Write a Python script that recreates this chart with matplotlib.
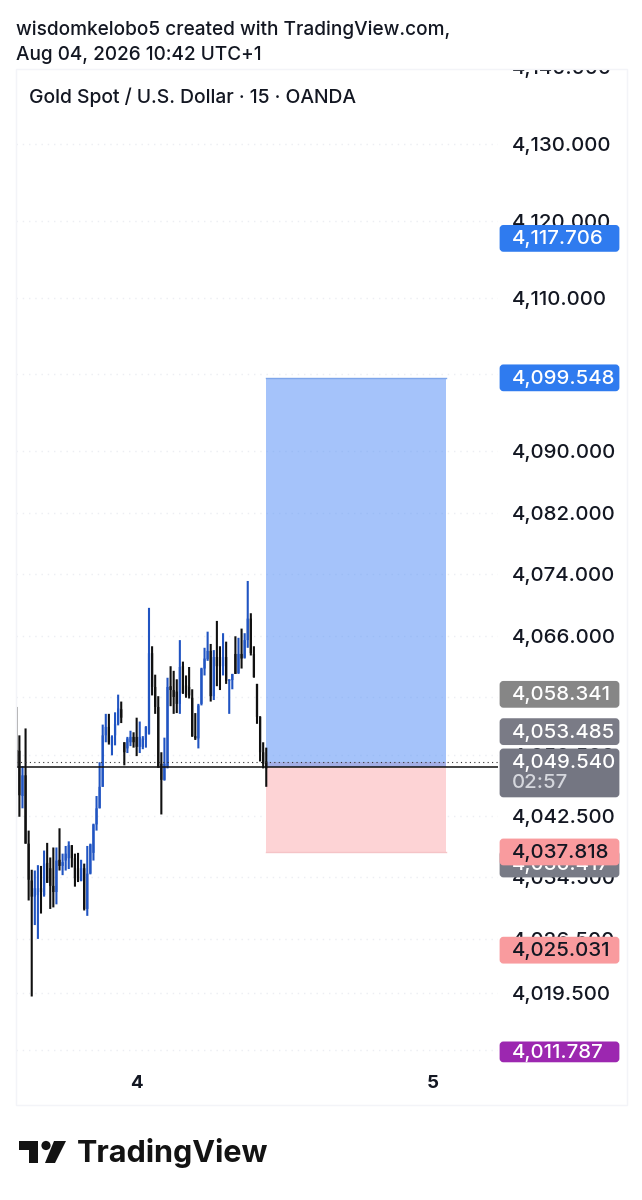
import numpy as np
from matplotlib import pyplot as plt
from matplotlib.patches import FancyBboxPatch, Rectangle, Circle, Polygon
from matplotlib.transforms import Bbox, IdentityTransform

# 15 min candles
opens = [4051.1, 4051.0, 4045.1, 4047.8, 4038.9, 4034.1, 4032.0, 4032.2, 4033.1, 4032.2,
         4036.4, 4035.7, 4033.4, 4032.6, 4036.8, 4036.0, 4036.7, 4037.0, 4038.7, 4037.0,
         4035.7, 4034.1, 4035.7, 4030.4, 4035.0, 4037.7, 4041.4, 4043.5, 4046.3, 4053.0,
         4054.1, 4051.7, 4053.0, 4054.5, 4056.4, 4052.1, 4051.3, 4052.1, 4052.8, 4052.8,
         4051.5, 4051.5, 4052.4, 4053.2, 4063.7, 4059.3, 4056.7, 4049.3, 4047.2, 4048.9,
         4059.4, 4058.9, 4058.7, 4057.1, 4062.0, 4059.5, 4059.3, 4057.9, 4052.9, 4052.6,
         4057.1, 4061.7, 4062.9, 4064.0, 4058.1, 4063.2, 4063.2, 4062.0, 4063.2, 4060.1,
         4060.2, 4063.6, 4061.1, 4063.6, 4063.1, 4065.4, 4068.2, 4063.6, 4059.7, 4055.4,
         4050.8, 4049.6]
highs = [4056.7, 4053.0, 4049.0, 4053.9, 4040.6, 4035.5, 4035.4, 4036.1, 4036.0, 4038.0,
         4039.0, 4037.1, 4038.4, 4038.4, 4040.9, 4037.6, 4038.6, 4039.2, 4038.7, 4037.6,
         4037.7, 4036.8, 4036.3, 4038.6, 4038.9, 4041.5, 4045.1, 4049.5, 4054.4, 4055.8,
         4055.8, 4053.0, 4056.0, 4058.3, 4057.4, 4052.1, 4052.8, 4053.6, 4053.4, 4055.3,
         4054.8, 4052.9, 4054.2, 4069.6, 4064.6, 4060.9, 4058.1, 4050.8, 4052.7, 4060.5,
         4062.0, 4061.4, 4060.3, 4065.4, 4062.6, 4060.8, 4061.9, 4059.0, 4055.9, 4057.1,
         4061.8, 4064.4, 4066.5, 4064.9, 4064.1, 4067.9, 4064.6, 4066.3, 4065.2, 4060.3,
         4061.0, 4065.9, 4065.7, 4066.9, 4066.3, 4073.1, 4068.9, 4064.6, 4059.7, 4055.5,
         4052.1, 4051.4]
lows = [4048.8, 4042.4, 4043.5, 4038.9, 4031.5, 4019.0, 4028.3, 4026.5, 4029.8, 4032.0,
        4033.8, 4030.4, 4030.6, 4031.0, 4035.4, 4034.8, 4035.4, 4035.6, 4035.8, 4033.3,
        4033.9, 4034.0, 4030.2, 4029.5, 4034.9, 4036.7, 4040.6, 4043.5, 4046.3, 4052.1,
        4051.8, 4050.4, 4051.7, 4054.3, 4054.6, 4049.1, 4050.7, 4051.6, 4051.4, 4050.3,
        4050.7, 4051.2, 4051.4, 4053.1, 4058.2, 4055.8, 4048.8, 4042.7, 4047.1, 4048.7,
        4056.8, 4055.8, 4055.9, 4055.8, 4058.4, 4057.9, 4057.8, 4052.8, 4052.4, 4051.3,
        4056.9, 4060.8, 4062.7, 4057.4, 4057.6, 4059.4, 4058.9, 4060.8, 4059.7, 4055.8,
        4059.0, 4061.0, 4061.0, 4061.7, 4063.0, 4064.4, 4063.4, 4060.5, 4054.5, 4049.6,
        4048.7, 4046.3]
closes = [4048.8, 4045.2, 4047.8, 4038.9, 4034.2, 4032.0, 4033.1, 4033.1, 4032.6, 4036.3,
          4033.8, 4033.4, 4032.6, 4036.7, 4036.0, 4036.5, 4037.6, 4038.7, 4037.0, 4034.4,
          4034.1, 4035.7, 4030.4, 4035.0, 4038.8, 4041.4, 4043.5, 4046.3, 4053.0, 4054.1,
          4052.1, 4052.8, 4054.5, 4056.5, 4055.3, 4050.8, 4052.6, 4052.8, 4052.1, 4051.5,
          4052.8, 4052.6, 4054.1, 4063.7, 4059.3, 4056.7, 4048.8, 4047.2, 4049.3, 4059.3,
          4058.9, 4058.0, 4057.1, 4061.9, 4058.5, 4058.2, 4058.2, 4052.9, 4052.6, 4056.9,
          4061.7, 4063.0, 4064.0, 4058.1, 4063.2, 4062.0, 4062.0, 4063.2, 4060.1, 4060.3,
          4061.0, 4061.0, 4063.6, 4063.0, 4065.4, 4068.2, 4063.7, 4060.6, 4055.4, 4050.8,
          4049.3, 4048.7]

# price axis
grid_prices = [4140, 4130, 4120, 4110, 4100, 4090, 4082, 4074, 4066, 4058, 4050.5, 4042.5,
               4034.5, 4026.5, 4019.5, 4012]
grid_labels = ['4,140.000', '4,130.000', '4,120.000', '4,110.000', '', '4,090.000', '4,082.000',
               '4,074.000', '4,066.000', '', '4,050.500', '4,042.500', '4,034.500', '4,026.500',
               '4,019.500', '4,012.000']
day_ticks = [38.8, 135]
day_labels = ['4', '5']

# position tool
target_price = 4099.548
entry_price = 4048.9
stop_price = 4037.818
last_price = 4049.54
box_start = 80.9
box_end = 139.2

W, H = 642, 1200
INK = '#131722'
FONT = 'Inter'
LABEL_SIZE = 14.7

fig = plt.figure(figsize=(W / 100, H / 100), dpi=100, facecolor='white')
ax = fig.add_axes([16 / W, 1 - 1067 / H, 482 / W, (1067 - 67) / H])
for s in ax.spines.values():
    s.set_visible(False)

ax.yaxis.tick_right()
ax.set_yticks(grid_prices)
ax.set_yticklabels(grid_labels, fontsize=LABEL_SIZE, color=INK, family=FONT, fontweight='medium')
ax.set_xticks(day_ticks)
ax.set_xticklabels(day_labels, fontsize=13.5, fontweight='bold', color=INK, family=FONT)
ax.tick_params(axis='y', length=0, pad=10)
ax.tick_params(axis='x', length=0, pad=6)
ax.grid(axis='y', color='#eceef3', lw=1, linestyle=(0, (1, 3.5)))
ax.set_axisbelow(True)
ax.set_xlim(-0.1, 156.1)
ax.set_ylim(4009.82, 4140.02)

# the top label is cut by the pane edge, and that level has no line in the pane
ax.yaxis.get_gridlines()[0].set_visible(False)
for lbl in ax.get_yticklabels():
    lbl.set_clip_box(Bbox([[0, H - 1105], [W, H - 69]]))
    lbl.set_clip_on(True)

# pane border
fig.add_artist(Rectangle((16, H - 1105), 611, 1036, transform=IdentityTransform(), fill=False,
                         ec='#f3f4f8', lw=1, zorder=0.5))

# risk/reward boxes
ax.fill_between([box_start, box_end], last_price, stop_price, color='#fdd3d5', lw=0, zorder=1)
ax.fill_between([box_start, box_end], entry_price, target_price, color='#5b93f7', alpha=0.55, lw=0, zorder=1.1)
ax.plot([box_start, box_end], [target_price, target_price], color='#7fa6ea', lw=1, zorder=1.2)
ax.plot([box_start, box_end], [stop_price, stop_price], color='#f5c4c7', lw=1, zorder=1.2)

# candles, no pixel snapping or the 3 px spacing comes out uneven
opens = np.array(opens)
closes = np.array(closes)
idx = np.arange(len(opens))
colors = np.where(closes >= opens, '#2054c2', '#101010')
wicks = ax.vlines(idx, lows, highs, colors=colors, lw=1.5, zorder=3)
wicks.set_snap(False)
bodies = ax.bar(idx, np.abs(closes - opens), bottom=np.minimum(opens, closes), width=0.72, color=colors, lw=0, zorder=3)
for b in bodies:
    b.set_snap(False)

# price lines
ax.axhline(entry_price, color='#111111', lw=1.1, zorder=4)
ax.axhline(last_price, color='#333333', lw=0.8, linestyle=(0, (1, 3)), zorder=4)


def py(value):
    # pixel row of a price, from the top of the picture
    return H - ax.transData.transform((0, value))[1]


def tag(value, text, color, layer, up=13, down=13, ink='white'):
    y = py(value)
    box = FancyBboxPatch((501, H - y - down + 1), 117, up + down - 2, boxstyle='round,pad=0,rounding_size=2.5',
                         mutation_aspect=1, transform=IdentityTransform(), fc=color, ec=color, lw=2, zorder=layer)
    fig.add_artist(box)
    fig.text(512 / W, 1 - (y + 1) / H, text, color=ink, fontsize=LABEL_SIZE, family=FONT, fontweight='medium',
             va='center', zorder=layer + 0.1)


tag(4036.25, '4,036.417', '#787b86', 2)
tag(stop_price, '4,037.818', '#f99b9e', 3, ink=INK)
tag(4117.706, '4,117.706', '#2f7bef', 4)
tag(target_price, '4,099.548', '#2f7bef', 5)
tag(4058.341, '4,058.341', '#868686', 6)
tag(4053.485, '4,053.485', '#7a7b86', 7)
tag(last_price, '4,049.540', '#747682', 8, up=13, down=35)
fig.text(512 / W, 1 - 783 / H, '02:57', color='#d5d7dd', fontsize=LABEL_SIZE, family=FONT, fontweight='medium',
         va='center', zorder=9)
tag(4025.031, '4,025.031', '#f99b9e', 10, ink=INK)
tag(4011.787, '4,011.787', '#9c27b0', 11, up=10, down=10)

# header
fig.text(16 / W, 1 - 29.5 / H, 'wisdomkelobo5 created with TradingView.com,', fontsize=13.7, color=INK, family=FONT,
         fontweight='medium', va='center')
fig.text(16 / W, 1 - 55.5 / H, 'Aug 04, 2026 10:42 UTC+1', fontsize=13.7, color=INK, family=FONT, fontweight='medium',
         va='center')
fig.text(29 / W, 1 - 97 / H, 'Gold Spot / U.S. Dollar \u00b7 15 \u00b7 OANDA', fontsize=13.9, color=INK, family=FONT,
         fontweight='medium', va='center')

# logo
logo = '#131313'
tr = IdentityTransform()
fig.add_artist(Polygon([(18.5, H - 1141), (38, H - 1141), (38, H - 1163), (29, H - 1163), (29, H - 1150), (18.5, H - 1150)],
                       transform=tr, fc=logo, ec='none'))
fig.add_artist(Circle((46, H - 1145.5), 4.6, transform=tr, fc=logo, ec='none'))
fig.add_artist(Polygon([(54, H - 1141), (66, H - 1141), (55, H - 1163), (45, H - 1163)], transform=tr, fc=logo, ec='none'))
fig.text(77 / W, 1 - 1153 / H, 'TradingView', fontsize=22, fontweight='bold', color=logo, family=FONT, va='center')

fig.savefig('out.png', dpi=100)
